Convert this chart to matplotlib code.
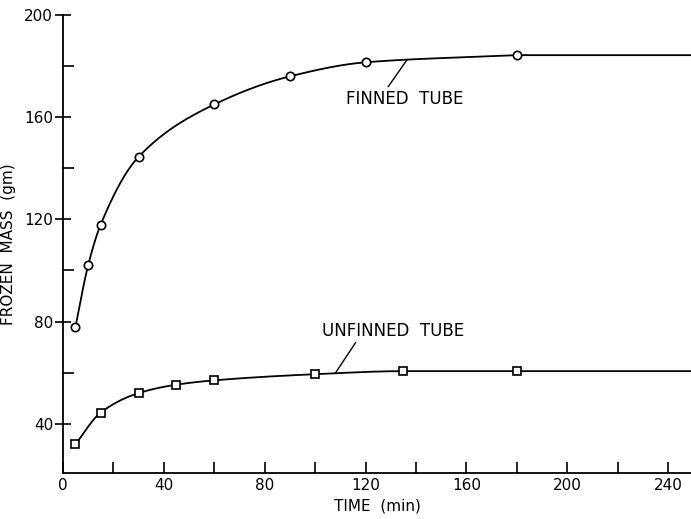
import numpy as np
import matplotlib.pyplot as plt

# values
fin_t = [5, 10, 15, 30, 60, 90, 120, 180]
fin_m = [78, 102, 118, 144.5, 165, 176, 181.5, 184.3]
unfin_t = [5, 15, 30, 45, 60, 100, 135, 180]
unfin_m = [32, 44.4, 52, 55.3, 57, 59.4, 60.6, 60.6]
t_end = 249  # curves run on to the right edge


def pchip(x, y, xs):
    # monotone cubic through the points (Fritsch-Carlson)
    x = np.asarray(x, float)
    y = np.asarray(y, float)
    h = np.diff(x)
    d = np.diff(y) / h
    m = np.zeros_like(y)
    m[0], m[-1] = d[0], d[-1]
    for k in range(1, len(x) - 1):
        if d[k - 1] * d[k] > 0:
            w1 = 2 * h[k] + h[k - 1]
            w2 = h[k] + 2 * h[k - 1]
            m[k] = (w1 + w2) / (w1 / d[k - 1] + w2 / d[k])
    idx = np.clip(np.searchsorted(x, xs) - 1, 0, len(x) - 2)
    s = (xs - x[idx]) / h[idx]
    h00 = 2 * s**3 - 3 * s**2 + 1
    h10 = s**3 - 2 * s**2 + s
    h01 = -2 * s**3 + 3 * s**2
    h11 = s**3 - s**2
    return (h00 * y[idx] + h10 * h[idx] * m[idx] + h01 * y[idx + 1]
            + h11 * h[idx] * m[idx + 1])


def smooth(t, m):
    xs = np.linspace(t[0], t[-1], 400)
    ys = pchip(t, m, xs)
    xs = np.append(xs, t_end)
    ys = np.append(ys, m[-1])
    return xs, ys


plt.rcParams['font.family'] = 'DejaVu Sans'
fig = plt.figure(figsize=(6.91, 5.19), dpi=100)
ax = fig.add_axes([0.091, 0.089, 0.909, 0.882])

for t, m, mk in [(fin_t, fin_m, 'o'), (unfin_t, unfin_m, 's')]:
    xs, ys = smooth(t, m)
    ax.plot(xs, ys, '-', color='black', lw=1.3, zorder=2)
    ax.plot(t, m, mk, ms=6, mfc='white', mec='black', mew=1.2, zorder=3)

ax.text(135.5, 167, 'FINNED  TUBE', ha='center', va='center', fontsize=12)
ax.plot([129, 136.5], [172, 182.6], color='black', lw=1)
ax.text(131, 76.4, 'UNFINNED  TUBE', ha='center', va='center', fontsize=12)
ax.plot([116, 108], [71.7, 59.8], color='black', lw=1)

ax.set_xlim(0, t_end)
ax.set_ylim(20.8, 200)
ax.set_xticks([0, 40, 80, 120, 160, 200, 240])
ax.set_xticks([20, 60, 100, 140, 180, 220], minor=True)
ax.set_yticks([40, 80, 120, 160, 200])
ax.set_yticks([60, 100, 140, 180], minor=True)
ax.tick_params(which='both', direction='in', length=8, width=1.2,
               labelsize=11, pad=4)
ax.tick_params(axis='y', which='major', direction='inout', length=12, pad=1)
for s in ['top', 'right']:
    ax.spines[s].set_visible(False)
for s in ['left', 'bottom']:
    ax.spines[s].set_linewidth(1.3)

ax.set_xlabel('TIME  (min)', fontsize=11, labelpad=4)
ax.set_ylabel('FROZEN  MASS  (gm)', fontsize=11, labelpad=6)

plt.savefig('out.png', format='png')
